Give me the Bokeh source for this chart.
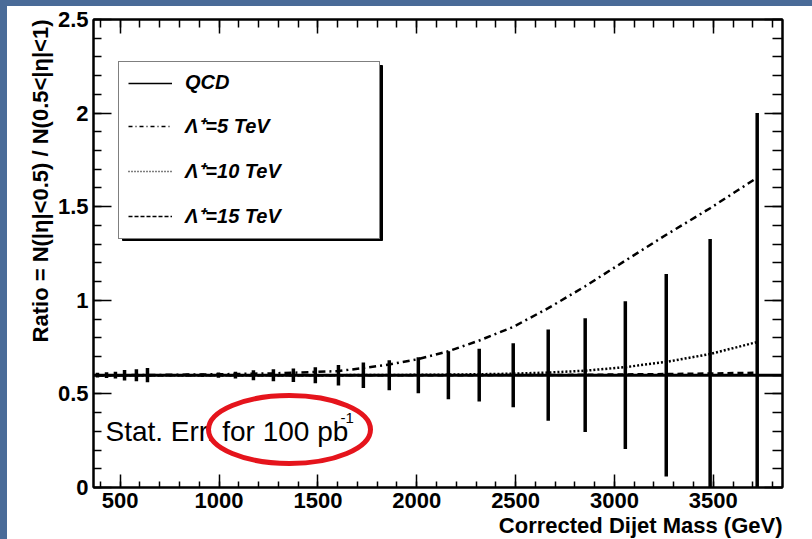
import numpy as np
from bokeh.plotting import figure
from bokeh.models import (Range1d, LinearAxis, FixedTicker, Span, Label, Legend, Title,
                          LegendItem, ColumnDataSource, CustomJSTickFormatter)
from bokeh.embed import file_html
from bokeh.resources import INLINE

# ---------------- data ----------------
mass = [385, 431, 476, 522, 582, 638, 769, 840, 916, 997, 1083, 1174, 1275, 1376,
        1487, 1604, 1730, 1861, 2008, 2160, 2316, 2488, 2665, 2852, 3055, 3262, 3484, 3722]
qcd_ratio = 0.6
stat_err = [0.013, 0.015, 0.018, 0.028, 0.032, 0.038, 0.005, 0.007, 0.009, 0.014,
            0.018, 0.027, 0.032, 0.036, 0.043, 0.055, 0.068, 0.080, 0.096, 0.128,
            0.141, 0.171, 0.244, 0.304, 0.395, 0.541, 0.728, 1.40]
lam5 = [0.600, 0.600, 0.600, 0.600, 0.601, 0.601, 0.602, 0.603, 0.604, 0.605,
        0.606, 0.608, 0.610, 0.613, 0.617, 0.622, 0.638, 0.657, 0.686, 0.728,
        0.785, 0.858, 0.958, 1.075, 1.212, 1.350, 1.492, 1.655]
lam10 = [0.600, 0.600, 0.600, 0.600, 0.600, 0.600, 0.600, 0.600, 0.600, 0.600,
         0.600, 0.600, 0.600, 0.600, 0.600, 0.600, 0.601, 0.601, 0.602, 0.603,
         0.605, 0.608, 0.614, 0.624, 0.643, 0.671, 0.713, 0.777]
lam15 = [0.600, 0.600, 0.600, 0.600, 0.600, 0.600, 0.600, 0.600, 0.600, 0.600,
         0.600, 0.600, 0.600, 0.600, 0.600, 0.600, 0.600, 0.600, 0.600, 0.600,
         0.600, 0.601, 0.601, 0.602, 0.604, 0.606, 0.609, 0.613]

x_major = [500, 1000, 1500, 2000, 2500, 3000, 3500]
y_major = [0, 0.5, 1, 1.5, 2, 2.5]
legend_labels = ["QCD", "\u039b\u207a=5 TeV", "\u039b\u207a=10 TeV", "\u039b\u207a=15 TeV"]
x_title = "Corrected Dijet Mass (GeV)"
y_title = "Ratio = N(|\u03b7|<0.5) / N(0.5<|\u03b7|<1)"
note_text = "Stat. Err. for 100 pb"
note_sup = "-1"

XMIN, XMAX = 365, 3850
YMIN, YMAX = 0, 2.5

# ---------------- layout ----------------
BL, BT = 7, 6            # slide-coloured strips (left, top)
W, H = 812, 539          # canvas; drawn from (BL, BT), clipped at the window edge
FL, FR, FT, FB = 93, 782, 19, 487  # frame edges in window pixels

FONT = "Liberation Sans"

p = figure(width=W, height=H, output_backend="svg", toolbar_location=None,
           x_range=Range1d(XMIN, XMAX), y_range=Range1d(YMIN, YMAX),
           min_border_left=FL - BL, min_border_right=W - (FR - BL),
           min_border_top=FT - BT, min_border_bottom=H - (FB - BT),
           x_axis_type=None, y_axis_type=None)
p.styles = {"border-left": f"{BL}px solid #4a6b98", "border-top": f"{BT}px solid #4a6b98"}
p.background_fill_color = "white"
p.border_fill_color = "white"
p.outline_line_color = "black"
p.outline_line_width = 2
p.xgrid.visible = False
p.ygrid.visible = False


def xd(px):
    return XMIN + (px - FL) * (XMAX - XMIN) / (FR - FL)


def yd(py):
    return YMAX - (py - FT) * (YMAX - YMIN) / (FB - FT)


x_minor = list(range(400, 3900, 100))
y_minor = [round(v * 0.1, 1) for v in range(0, 26)]

yfmt = CustomJSTickFormatter(code="return String(tick)")


def style_axis(ax, major_in, minor_in, show_labels):
    ax.axis_line_color = "black"
    ax.axis_line_width = 2
    ax.major_tick_in = major_in
    ax.major_tick_out = 0
    ax.minor_tick_in = minor_in
    ax.minor_tick_out = 0
    ax.major_tick_line_width = 1.5
    ax.minor_tick_line_width = 1.5
    ax.major_tick_line_color = "black"
    ax.minor_tick_line_color = "black"
    if show_labels:
        ax.major_label_text_font = FONT
        ax.major_label_text_font_style = "bold"
        ax.major_label_text_font_size = "22px"
        ax.major_label_text_color = "black"
    else:
        ax.major_label_text_font_size = "0px"
        ax.major_label_text_alpha = 0


xb = LinearAxis(ticker=FixedTicker(ticks=x_major, minor_ticks=x_minor))
style_axis(xb, 13, 6, True)
xb.major_label_standoff = 5
p.add_layout(xb, "below")

xt = LinearAxis(ticker=FixedTicker(ticks=x_major, minor_ticks=x_minor))
style_axis(xt, 14, 8, False)
p.add_layout(xt, "above")

yl = LinearAxis(ticker=FixedTicker(ticks=y_major, minor_ticks=y_minor), formatter=yfmt)
style_axis(yl, 18, 8, True)
yl.major_label_standoff = 5
p.add_layout(yl, "left")

yr = LinearAxis(ticker=FixedTicker(ticks=y_major, minor_ticks=y_minor))
style_axis(yr, 18, 10, False)
p.add_layout(yr, "right")

# axis titles, right / top aligned as in the reference
p.add_layout(Title(text=x_title, align="right", standoff=0, offset=0,
                   text_font=FONT, text_font_style="bold", text_font_size="22px",
                   text_color="black"), "below")
p.add_layout(Title(text=y_title, align="right", standoff=3, offset=0,
                   text_font=FONT, text_font_style="bold", text_font_size="22px",
                   text_color="black"), "left")

# ---------------- data marks ----------------
src = ColumnDataSource(dict(
    x=mass,
    lo=[qcd_ratio - e for e in stat_err],
    hi=[qcd_ratio + e for e in stat_err],
    l5=lam5, l10=lam10, l15=lam15))

p.line("x", "l15", source=src, line_color="black", line_width=2.5, line_dash="6 4")
p.line("x", "l10", source=src, line_color="black", line_width=2.5, line_dash="2 2")
p.line("x", "l5", source=src, line_color="black", line_width=2.5, line_dash="7 4 2 4")
p.add_layout(Span(location=qcd_ratio, dimension="width", line_color="black", line_width=3))
p.segment(x0="x", y0="lo", x1="x", y1="hi", source=src, line_color="black", line_width=3.5)

# ---------------- legend ----------------
# shadow box behind the legend
p.quad(left=[xd(122)], right=[xd(382)], top=[yd(65)], bottom=[yd(240)],
       fill_color="black", line_color="black")

nan = float("nan")
r_q = p.line([nan], [nan], line_color="black", line_width=1.3)
r_5 = p.line([nan], [nan], line_color="black", line_width=1.3, line_dash="4 3 1 3")
r_10 = p.line([nan], [nan], line_color="black", line_width=1.5, line_dash="1 2")
r_15 = p.line([nan], [nan], line_color="black", line_width=1.3, line_dash="4 2")
legend = Legend(items=[LegendItem(label=legend_labels[0], renderers=[r_q]),
                       LegendItem(label=legend_labels[1], renderers=[r_5]),
                       LegendItem(label=legend_labels[2], renderers=[r_10]),
                       LegendItem(label=legend_labels[3], renderers=[r_15])],
                location=(118 - FL, FB - 239), margin=0, padding=9, spacing=18,
                glyph_width=44, glyph_height=20, label_height=20, label_width=185,
                label_standoff=13, border_line_color="black", border_line_width=1,
                background_fill_color="white", background_fill_alpha=1.0,
                label_text_font=FONT, label_text_font_style="bold italic",
                label_text_font_size="20px", label_text_color="black")
p.add_layout(legend)

# ---------------- texts inside the frame ----------------
p.add_layout(Label(x=xd(105), y=yd(431), text=note_text, text_align="left",
                   text_baseline="middle", text_font=FONT,
                   text_font_size="28px", text_color="black"))
p.add_layout(Label(x=xd(340), y=yd(417), text=note_sup, text_align="left",
                   text_baseline="middle", text_font=FONT,
                   text_font_size="15px", text_color="black"))

# red highlight ring
p.ellipse(x=[xd(289)], y=[yd(429)], width=162, height=68, width_units="screen",
          height_units="screen", fill_color=None, line_color="#e5141c", line_width=5,
          level="overlay")

open("out.html", "w").write(file_html(p, INLINE))
